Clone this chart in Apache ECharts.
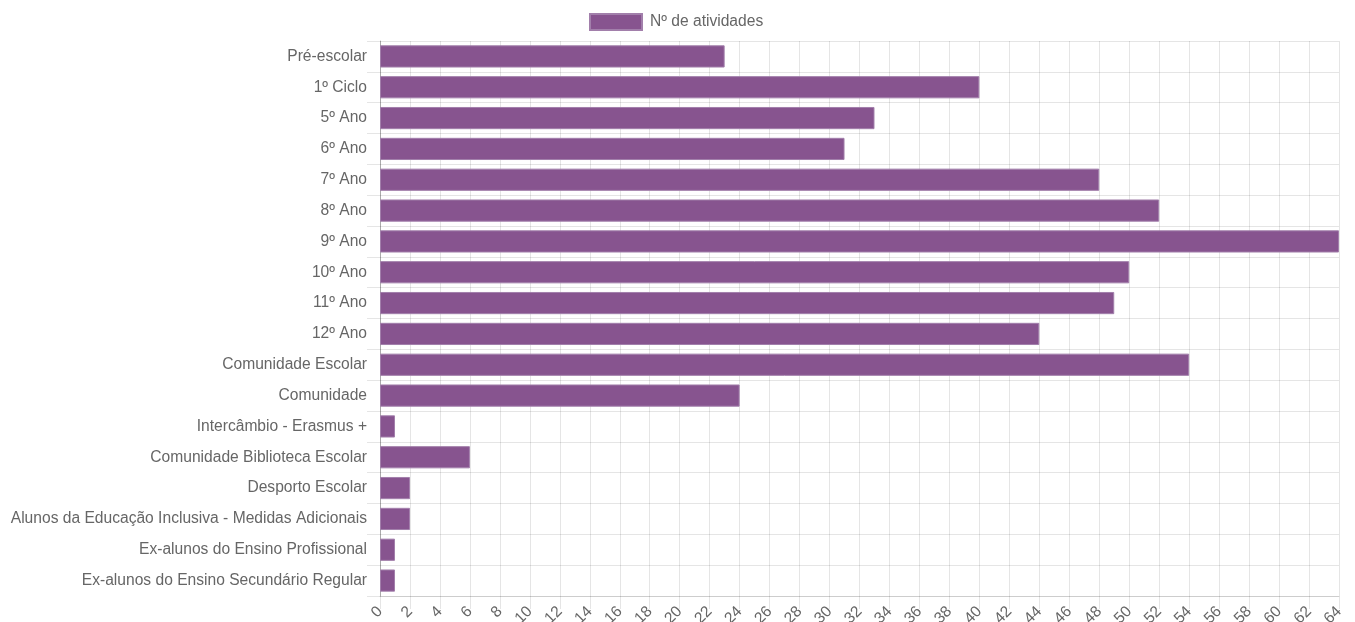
<!DOCTYPE html>
<html>
<head>
<meta charset="utf-8">
<script src="https://cdn.jsdelivr.net/npm/echarts@6/dist/echarts.min.js"></script>
<style>
  html, body { margin: 0; padding: 0; background: #fff; }
  #chart { width: 1355px; height: 622px; }
</style>
</head>
<body>
<div id="chart"></div>
<script>
const categories = [
  'Pré-escolar', '1º Ciclo', '5º Ano', '6º Ano', '7º Ano', '8º Ano', '9º Ano',
  '10º Ano', '11º Ano', '12º Ano', 'Comunidade Escolar', 'Comunidade',
  'Intercâmbio - Erasmus +', 'Comunidade Biblioteca Escolar', 'Desporto Escolar',
  'Alunos da Educação Inclusiva - Medidas Adicionais',
  'Ex-alunos do Ensino Profissional', 'Ex-alunos do Ensino Secundário Regular'
];
const seriesName = 'Nº de atividades';
const values = [23, 40, 33, 31, 48, 52, 64, 50, 49, 44, 54, 24, 1, 6, 2, 2, 1, 1];
const xMin = 0, xMax = 64, xStep = 2;

const FONT = "Arial, 'Liberation Sans', sans-serif";
const gridColor = 'rgba(0,0,0,0.1)';

const chart = echarts.init(document.getElementById('chart'), null, { renderer: 'canvas' });
chart.setOption({
  animation: false,
  backgroundColor: '#fff',
  legend: {
    top: 8,
    left: 584,
    itemWidth: 52,
    itemHeight: 16,
    icon: 'rect',
    textStyle: { fontFamily: FONT, fontSize: 15.6, color: '#666', padding: [0, 0, 0, 3] },
    data: [seriesName]
  },
  grid: { left: 380, right: 16, top: 41, bottom: 26, containLabel: false, outerBoundsMode: 'none' },
  xAxis: {
    type: 'value',
    min: xMin, max: xMax, interval: xStep,
    axisLine: { show: true, lineStyle: { color: gridColor, width: 1 } },
    axisTick: { show: true, length: 13, lineStyle: { color: gridColor } },
    splitLine: { show: true, lineStyle: { color: gridColor, width: 1 } },
    axisLabel: { rotate: 45, margin: 13, fontFamily: FONT, fontSize: 15.6, color: '#666' }
  },
  yAxis: {
    type: 'category',
    inverse: true,
    data: categories,
    axisLine: { show: true, lineStyle: { color: 'rgba(0,0,0,0.25)', width: 1 } },
    axisTick: { show: true, length: 13, lineStyle: { color: gridColor } },
    splitLine: { show: true, lineStyle: { color: gridColor, width: 1 } },
    axisLabel: { margin: 13, fontFamily: FONT, fontSize: 15.6, color: '#666' }
  },
  series: [{
    name: seriesName,
    type: 'bar',
    data: values,
    barWidth: '72%',
    itemStyle: { color: '#87548f', borderColor: '#a27fab', borderWidth: 1 }
  }]
});
</script>
</body>
</html>
